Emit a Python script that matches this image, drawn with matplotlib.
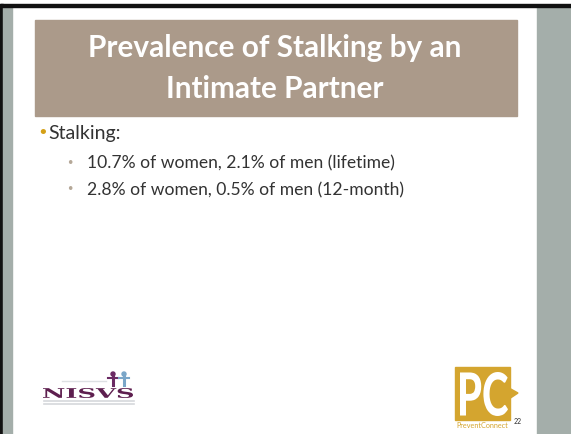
import matplotlib.pyplot as plt
from matplotlib.patches import Rectangle, Polygon, Circle, PathPatch
from matplotlib.textpath import TextPath
from matplotlib.font_manager import FontProperties
from matplotlib.transforms import Affine2D

# Slide content
title_lines = ['Prevalence of Stalking by an', 'Intimate Partner']
main_bullet = 'Stalking:'
sub_bullets = ['10.7% of women, 2.1% of men (lifetime)',
               '2.8% of women, 0.5% of men (12-month)']
page_number = '22'

W, H = 571, 434
fig = plt.figure(figsize=(W / 100, H / 100), dpi=100)
ax = fig.add_axes([0, 0, 1, 1])
ax.set_xlim(0, W)
ax.set_ylim(H, 0)
ax.axis('off')


def boxed_text(s, x0, y0, x1, y1, color, **font):
    # stretch a text outline so it fills the box (y grows downward here)
    tp = TextPath((0, 0), s, size=10, prop=FontProperties(**font))
    ext = tp.get_extents()
    tr = (Affine2D().translate(-ext.x0, -ext.y1)
          .scale((x1 - x0) / ext.width, -(y1 - y0) / ext.height)
          .translate(x0, y0))
    ax.add_patch(PathPatch(tr.transform_path(tp), color=color, lw=0))


strip = '#a4aeaa'
# background and side strips
ax.add_patch(Rectangle((0, 0), W, H, color='white'))
ax.add_patch(Rectangle((0, 4), 3, H, color='#111111'))
ax.add_patch(Rectangle((3, 6), 8.5, H, color=strip))
ax.add_patch(Rectangle((537, 6), W - 537, H, color=strip))
ax.add_patch(Rectangle((0, 4), W, 2.5, color='#111111'))

# title box
ax.add_patch(Rectangle((35, 20), 482, 96, color='#ab9a8a'))
for i, line in enumerate(title_lines):
    ax.text(275, 57 + i * 41, line, ha='center', va='baseline', color='white',
            fontsize=21.4, fontweight='bold', family='Lato')

# bullets
ax.text(37, 133, '\u2022', ha='left', va='center', color='#d4a017', fontsize=13)
ax.text(48, 133, main_bullet, ha='left', va='center', color='#333333',
        fontsize=14, family='Lato')
for i, txt in enumerate(sub_bullets):
    y = 163 + i * 27
    ax.text(66, y, '\u2022', ha='left', va='center', color='#b5a898', fontsize=9)
    ax.text(87, y, txt, ha='left', va='center', color='#333333',
            fontsize=12.6, family='Lato')

# NISVS logo
boxed_text('NISVS', 43, 388, 133, 398, '#5e1f4f',
           family='DejaVu Serif', weight='bold')
for x0, col in [(113, '#6b2a63'), (124, '#7aa6c8')]:
    ax.add_patch(Circle((x0, 374), 2, color=col))
    ax.plot([x0, x0], [376, 385], color=col, lw=2.2)
    ax.plot([x0 - 5, x0 + 5], [378, 378], color=col, lw=1.5)
ax.plot([62, 106], [381, 381], color='#dde0e3', lw=1)
for yy in (401, 404):
    ax.plot([44, 134], [yy, yy], color='#d6d8dc', lw=1.2)

# PreventConnect logo
gold = '#d4a52f'
ax.add_patch(Rectangle((455, 367), 55, 53, color=gold))
ax.add_patch(Polygon([[509, 388], [518, 393], [509, 399]], color=gold))
boxed_text('PC', 460, 372, 508, 416, 'white', family='Lato', weight='black')
ax.text(482, 426, 'PreventConnect', ha='center', va='center', color=gold,
        fontsize=5.2, family='Lato')
ax.text(518, 422, page_number, ha='center', va='center', color='#333333',
        fontsize=5, family='Lato')

fig.savefig('out.png', dpi=100)
